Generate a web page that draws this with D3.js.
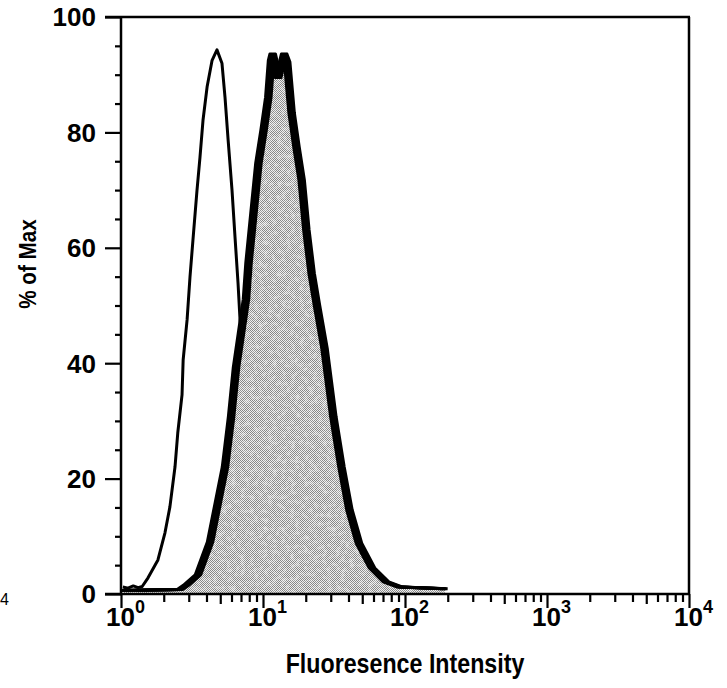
<!DOCTYPE html>
<html>
<head>
<meta charset="utf-8">
<script src="https://cdn.jsdelivr.net/npm/d3@7/dist/d3.min.js"></script>
<style>
  html, body { margin: 0; padding: 0; background: #fff; }
  svg { display: block; font-family: "Liberation Sans", Arial, sans-serif; }
</style>
</head>
<body>
<svg id="chart" width="727" height="688"></svg>
<script>
// Isotype control histogram: fluorescence intensity vs. % of max
const controlIntensity = [1.03, 1.12, 1.22, 1.32, 1.41, 1.55, 1.82, 2.04, 2.21, 2.40, 2.51, 2.69, 2.74,
  2.92, 3.06, 3.21, 3.43, 3.60, 3.78, 4.04, 4.38, 4.74, 5.14, 5.40, 5.68, 6.05, 6.35, 6.67, 6.89,
  7.41, 8.13, 9.12, 10.2, 12.0, 15.5];
const controlPct = [1.2, 1.0, 1.4, 1.1, 1.3, 2.8, 5.9, 10.6, 15.1, 22.0, 27.9, 34.5, 40.6,
  47.5, 54.9, 61.3, 70.0, 75.7, 82.1, 87.9, 92.5, 94.3, 92.0, 86.1, 78.7, 70.0, 61.9, 53.9, 47.5,
  38.0, 25.0, 12.0, 5.0, 2.0, 1.0];

// Stained sample histogram
const stainedIntensity = [1.05, 1.60, 2.60, 2.87, 3.48, 4.24, 4.82, 5.40, 5.96, 6.46, 7.00, 7.59, 7.91,
  8.57, 9.29, 10.1, 10.9, 11.4, 11.7, 12.8, 14.1, 14.8, 15.9, 17.2, 18.7, 20.2, 22.0, 24.0, 27.1,
  31.3, 35.7, 40.6, 47.4, 58.6, 73.5, 92.3, 191];
const stainedPct = [0.6, 0.7, 0.8, 1.5, 3.3, 9.0, 15.9, 22.0, 30.7, 39.3, 45.2, 51.1, 57.4,
  66.0, 74.7, 80.4, 86.1, 92.5, 93.6, 89.5, 93.6, 92.2, 83.4, 77.5, 71.8, 63.1, 55.6, 50.0, 42.6,
  30.7, 22.0, 14.6, 8.8, 4.5, 2.1, 1.2, 0.9];

// Axis ticks
const yMajorTicks = [0, 20, 40, 60, 80, 100];
const yMinorTicks = [5, 10, 15, 25, 30, 35, 45, 50, 55, 65, 70, 75, 85, 90, 95];
const xDecades = [1, 10, 100, 1000, 10000];
const xExponents = ["0", "1", "2", "3", "4"];

const svg = d3.select("#chart");
const plotLeft = 121, plotRight = 689, plotTop = 17, plotBottom = 594;

const x = d3.scaleLog().domain([1, 1e4]).range([plotLeft, plotRight]);
const y = d3.scaleLinear().domain([0, 100]).range([plotBottom, plotTop]);

const control = controlIntensity.map((v, i) => [v, controlPct[i]]);
const stained = stainedIntensity.map((v, i) => [v, stainedPct[i]]);

const defs = svg.append("defs");
// fine stipple used for the stained fill
const pat = defs.append("pattern").attr("id", "stipple")
  .attr("width", 2).attr("height", 2).attr("patternUnits", "userSpaceOnUse");
pat.append("rect").attr("width", 2).attr("height", 2).attr("fill", "#eeeeee");
pat.append("rect").attr("x", 0).attr("y", 0).attr("width", 1).attr("height", 1).attr("fill", "#858585");
pat.append("rect").attr("x", 1).attr("y", 1).attr("width", 1).attr("height", 1).attr("fill", "#858585");

// grainy mottling on top of the stipple
const f = defs.append("filter").attr("id", "mottle").attr("x", 0).attr("y", 0).attr("width", 1).attr("height", 1);
f.append("feTurbulence").attr("type", "fractalNoise").attr("baseFrequency", 0.22)
  .attr("numOctaves", 3).attr("seed", 7).attr("result", "noise");
f.append("feColorMatrix").attr("in", "noise").attr("type", "matrix")
  .attr("values", "0 0 0 0 1  0 0 0 0 1  0 0 0 0 1  2.5 0 0 0 -1.1").attr("result", "spots");
f.append("feComposite").attr("in", "spots").attr("in2", "SourceGraphic").attr("operator", "in");

const line = d3.line().x(d => x(d[0])).y(d => y(d[1]));
const area = d3.area().x(d => x(d[0])).y0(y(0)).y1(d => y(d[1]));

// control curve (thin outline)
svg.append("path").datum(control)
  .attr("d", line).attr("fill", "none").attr("stroke", "#000")
  .attr("stroke-width", 3).attr("stroke-linejoin", "round");

// stained curve: stippled fill
svg.append("path").datum(stained).attr("d", area).attr("fill", "url(#stipple)");
svg.append("path").datum(stained).attr("d", area).attr("fill", "#fff")
  .attr("filter", "url(#mottle)").attr("opacity", 0.45);

// heavy outline drawn with a horizontal brush
const brush = [-2.75, -1.4, 0, 1.4, 2.75];
svg.append("g").selectAll("path").data(brush).join("path")
  .attr("transform", d => `translate(${d},0)`)
  .attr("d", line(stained))
  .attr("fill", "none").attr("stroke", "#000")
  .attr("stroke-width", 3).attr("stroke-linejoin", "round");

// frame
svg.append("line").attr("x1", plotLeft - 16).attr("x2", plotRight + 1).attr("y1", plotTop).attr("y2", plotTop)
  .attr("stroke", "#000").attr("stroke-width", 2.5);
svg.append("line").attr("x1", plotRight).attr("x2", plotRight).attr("y1", plotTop).attr("y2", plotBottom)
  .attr("stroke", "#000").attr("stroke-width", 2.5);

// y axis
const yAxis = svg.append("g").attr("transform", `translate(${plotLeft},0)`)
  .call(d3.axisLeft(y).tickValues(yMajorTicks).tickSize(16).tickFormat(""));
yAxis.append("g").call(d3.axisLeft(y).tickValues(yMinorTicks).tickSize(6).tickFormat(""));
yAxis.selectAll("path.domain").remove();
yAxis.selectAll("line").attr("stroke", "#000").attr("stroke-width", 2.2);
svg.append("line").attr("x1", plotLeft).attr("x2", plotLeft).attr("y1", plotTop - 1).attr("y2", plotBottom + 1)
  .attr("stroke", "#000").attr("stroke-width", 2.5);

svg.append("g").selectAll("text").data(yMajorTicks).join("text")
  .attr("x", 96).attr("y", d => y(d)).attr("dy", "0.36em")
  .attr("text-anchor", "end").attr("font-size", 26).attr("font-weight", "bold")
  .text(d => d);

// x axis
const xMinor = [];
xDecades.slice(0, -1).forEach(d => { for (let k = 2; k <= 9; k++) xMinor.push({ v: d * k, k }); });
const xAxis = svg.append("g").attr("transform", `translate(0,${plotBottom})`);
xAxis.append("g").call(d3.axisBottom(x).tickValues(xDecades).tickSize(14).tickFormat(""));
xAxis.append("g").call(d3.axisBottom(x).tickValues(xMinor.filter(m => m.k !== 5).map(m => m.v)).tickSize(8).tickFormat(""));
xAxis.append("g").call(d3.axisBottom(x).tickValues(xMinor.filter(m => m.k === 5).map(m => m.v)).tickSize(10).tickFormat(""));
xAxis.selectAll("path.domain").remove();
xAxis.selectAll("line").attr("stroke", "#000").attr("stroke-width", 2.2);
svg.append("line").attr("x1", plotLeft - 16).attr("x2", plotRight + 1).attr("y1", plotBottom).attr("y2", plotBottom)
  .attr("stroke", "#000").attr("stroke-width", 2.5);

const xl = svg.append("g").selectAll("text").data(xDecades).join("text")
  .attr("x", d => x(d) - 15).attr("y", 626)
  .attr("font-size", 26).attr("font-weight", "bold");
xl.append("tspan").text("10");
xl.append("tspan").attr("dy", -13).attr("font-size", 18).text((d, i) => xExponents[i]);

// axis titles (condensed bold lettering)
svg.append("text").attr("transform", `translate(${(plotLeft + plotRight) / 2},673) scale(0.86,1)`)
  .attr("text-anchor", "middle").attr("font-size", 27).attr("font-weight", "bold")
  .text("Fluoresence Intensity");
svg.append("text").attr("transform", "translate(36,264) rotate(-90) scale(0.9,1)")
  .attr("text-anchor", "middle").attr("font-size", 23).attr("font-weight", "bold")
  .text("% of Max");

// small panel label at the left edge
svg.append("text").attr("x", 0).attr("y", 605).attr("font-size", 16).text("4");
</script>
</body>
</html>
